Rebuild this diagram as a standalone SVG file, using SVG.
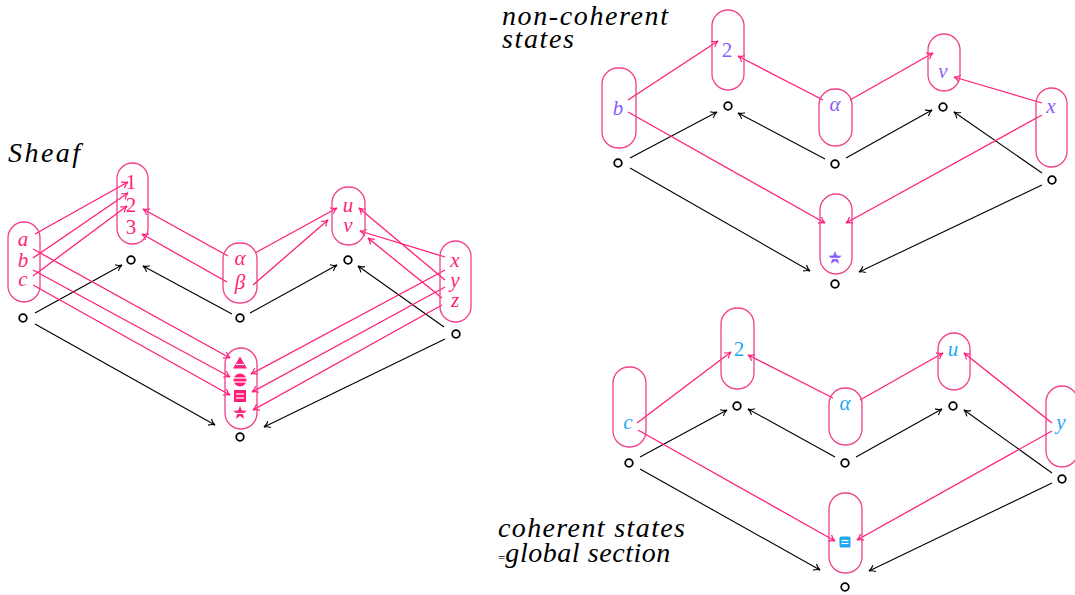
<svg xmlns="http://www.w3.org/2000/svg" xmlns:xlink="http://www.w3.org/1999/xlink" width="1075" height="595" viewBox="0 0 1075 595">
<style>
.box{fill:none;stroke:#F2408A;stroke-width:1.3}
.pk{fill:none;stroke:#FF1F7A;stroke-width:1.3;marker-end:url(#ap)}
.bk{fill:none;stroke:#000;stroke-width:1.1;marker-end:url(#ab)}
.pt{fill:#fff;stroke:#000;stroke-width:1.8}
text{font-family:'Liberation Serif','DejaVu Serif',serif}
.m{font-style:italic;font-size:21px;text-anchor:middle}
.d{font-style:normal}
.pink{fill:#FF1F7A}
.pur{fill:#8B5CFF}
.cy{fill:#1EA6F2}
.ttl{font-style:italic;font-size:28px;fill:#000}
.wl{stroke:#fff;stroke-width:1.2}
</style>
<defs>
<marker id="ap" viewBox="-7 -5 8 10" refX="0" refY="0" markerWidth="8" markerHeight="10" markerUnits="userSpaceOnUse" orient="auto" overflow="visible">
<path d="M-6,-3.5 C-4,-1.5 -1.5,-0.3 0,0 C-1.5,0.3 -4,1.5 -6,3.5" fill="none" stroke="#FF1F7A" stroke-width="1.2"/>
</marker>
<marker id="ab" viewBox="-7 -5 8 10" refX="0" refY="0" markerWidth="8" markerHeight="10" markerUnits="userSpaceOnUse" orient="auto" overflow="visible">
<path d="M-6,-3.5 C-4,-1.5 -1.5,-0.3 0,0 C-1.5,0.3 -4,1.5 -6,3.5" fill="none" stroke="#000" stroke-width="1.1"/>
</marker>
<path id="star" d="M0,-7 L1.76,-2.43 L6.66,-2.16 L2.85,0.93 L4.11,5.66 L0,3 L-4.11,5.66 L-2.85,0.93 L-6.66,-2.16 L-1.76,-2.43 Z"/>
</defs>

<text class="ttl" x="8" y="162" textLength="72">Sheaf</text>
<text class="ttl" x="502" y="25" textLength="166">non-coherent</text>
<text class="ttl" x="502" y="48" textLength="72">states</text>
<text class="ttl" x="498" y="537" textLength="187">coherent states</text>
<text class="ttl" x="498" y="562"><tspan font-size="13" style="font-style:normal">=</tspan><tspan textLength="165">global section</tspan></text>

<g id="connectors">
<line class="bk" x1="35" y1="313" x2="122" y2="265"/>
<line class="bk" x1="232" y1="314" x2="143" y2="266"/>
<line class="bk" x1="250" y1="313" x2="337" y2="265"/>
<line class="bk" x1="444" y1="327" x2="358" y2="266"/>
<line class="bk" x1="35" y1="324" x2="215" y2="425"/>
<line class="bk" x1="445" y1="339" x2="264" y2="427"/>
<line class="pk" x1="35" y1="234" x2="128" y2="182"/>
<line class="pk" x1="33" y1="258" x2="128" y2="193"/>
<line class="pk" x1="33" y1="276" x2="127" y2="206"/>
<line class="pk" x1="228" y1="256" x2="143" y2="209"/>
<line class="pk" x1="227" y1="282" x2="142" y2="234"/>
<line class="pk" x1="255" y1="253" x2="337" y2="208"/>
<line class="pk" x1="253" y1="285" x2="328" y2="220"/>
<line class="pk" x1="445" y1="257" x2="360" y2="231"/>
<line class="pk" x1="445" y1="280" x2="359" y2="208"/>
<line class="pk" x1="442" y1="298" x2="368" y2="238"/>
<line class="pk" x1="33" y1="249" x2="230" y2="358"/>
<line class="pk" x1="33" y1="270" x2="230" y2="377"/>
<line class="pk" x1="33" y1="285" x2="230" y2="395"/>
<line class="pk" x1="445" y1="270" x2="251" y2="374"/>
<line class="pk" x1="445" y1="287" x2="252" y2="392"/>
<line class="pk" x1="442" y1="305" x2="253" y2="410"/>
<line class="bk" x1="630" y1="158" x2="717" y2="112"/>
<line class="bk" x1="825" y1="159" x2="738" y2="113"/>
<line class="bk" x1="846" y1="158" x2="932" y2="110"/>
<line class="bk" x1="1042" y1="173" x2="954" y2="112"/>
<line class="bk" x1="630" y1="168" x2="810" y2="271"/>
<line class="bk" x1="1042" y1="185" x2="859" y2="272"/>
<line class="pk" x1="628" y1="100" x2="718" y2="41"/>
<line class="pk" x1="628" y1="112" x2="825" y2="223"/>
<line class="pk" x1="823" y1="100" x2="738" y2="56"/>
<line class="pk" x1="850" y1="100" x2="933" y2="53"/>
<line class="pk" x1="1042" y1="103" x2="954" y2="77"/>
<line class="pk" x1="1042" y1="115" x2="846" y2="223"/>
<line class="bk" x1="640" y1="457" x2="727" y2="410"/>
<line class="bk" x1="835" y1="457" x2="748" y2="409"/>
<line class="bk" x1="856" y1="457" x2="942" y2="409"/>
<line class="bk" x1="1052" y1="473" x2="964" y2="410"/>
<line class="bk" x1="640" y1="469" x2="820" y2="570"/>
<line class="bk" x1="1052" y1="483" x2="869" y2="571"/>
<line class="pk" x1="637" y1="423" x2="731" y2="352"/>
<line class="pk" x1="638" y1="430" x2="835" y2="541"/>
<line class="pk" x1="833" y1="398" x2="748" y2="355"/>
<line class="pk" x1="860" y1="400" x2="943" y2="353"/>
<line class="pk" x1="1052" y1="423" x2="964" y2="353"/>
<line class="pk" x1="1052" y1="431" x2="857" y2="540"/>
</g>

<g id="L-abc"><rect class="box" x="8" y="222" width="32" height="80" rx="16"/>
<text class="m pink" x="23" y="246">a</text><text class="m pink" x="23" y="267">b</text><text class="m pink" x="23" y="286">c</text></g>
<g id="L-123"><rect class="box" x="117" y="163" width="31" height="81" rx="15.5"/>
<text class="m d pink" x="131" y="189">1</text><text class="m d pink" x="131" y="212">2</text><text class="m d pink" x="131" y="234">3</text></g>
<g id="L-alphabeta"><rect class="box" x="223" y="243" width="34" height="60" rx="16"/>
<text class="m pink" x="240" y="265">α</text><text class="m pink" x="240" y="289">β</text></g>
<g id="L-uv"><rect class="box" x="332" y="187" width="33" height="58" rx="16"/>
<text class="m pink" x="348" y="212">u</text><text class="m pink" x="348" y="232">v</text></g>
<g id="L-xyz"><rect class="box" x="440" y="241" width="31" height="81" rx="15.5"/>
<text class="m pink" x="455" y="267">x</text><text class="m pink" x="455" y="287">y</text><text class="m pink" x="455" y="307">z</text></g>
<g id="L-symbols"><rect class="box" x="225" y="348" width="32" height="81" rx="16"/>
<path d="M240,356.5 L247,368.5 L233,368.5 Z" fill="#FF1F7A"/>
<line class="wl" x1="236" y1="364.5" x2="244" y2="364.5"/>
<circle cx="240" cy="380" r="6.5" fill="#FF1F7A"/>
<line class="wl" x1="233.5" y1="378" x2="246.5" y2="378"/><line class="wl" x1="233.5" y1="382" x2="246.5" y2="382"/>
<rect x="234" y="390" width="12" height="12" fill="#FF1F7A"/>
<line class="wl" x1="236" y1="394" x2="244" y2="394"/><line class="wl" x1="236" y1="398" x2="244" y2="398"/>
<use xlink:href="#star" href="#star" x="240" y="413" fill="#FF1F7A"/>
<line class="wl" x1="236" y1="413.5" x2="244" y2="413.5"/></g>
<g id="L-points">
<circle class="pt" cx="23" cy="318" r="3.8"/><circle class="pt" cx="131" cy="260" r="3.8"/>
<circle class="pt" cx="240" cy="318" r="3.8"/><circle class="pt" cx="348" cy="260" r="3.8"/>
<circle class="pt" cx="456" cy="334" r="3.8"/><circle class="pt" cx="240" cy="437" r="3.8"/></g>

<g id="T-b"><rect class="box" x="602" y="68" width="34" height="80" rx="16"/><text class="m pur" x="618" y="115">b</text></g>
<g id="T-2"><rect class="box" x="712" y="10" width="32" height="80" rx="16"/><text class="m d pur" x="727" y="57">2</text></g>
<g id="T-alpha"><rect class="box" x="819" y="89" width="33" height="57" rx="16"/><text class="m pur" x="835" y="111">α</text></g>
<g id="T-v"><rect class="box" x="928" y="34" width="32" height="57" rx="16"/><text class="m pur" x="943" y="78">v</text></g>
<g id="T-x"><rect class="box" x="1036" y="88" width="31" height="79" rx="15.5"/><text class="m pur" x="1051" y="113">x</text></g>
<g id="T-star"><rect class="box" x="820" y="194" width="32" height="80" rx="16"/>
<use xlink:href="#star" href="#star" x="835" y="258" fill="#8B5CFF"/>
<line class="wl" x1="831" y1="258.5" x2="839" y2="258.5"/></g>
<g id="T-points">
<circle class="pt" cx="618" cy="163" r="3.8"/><circle class="pt" cx="728" cy="106" r="3.8"/>
<circle class="pt" cx="835" cy="164" r="3.8"/><circle class="pt" cx="943" cy="107" r="3.8"/>
<circle class="pt" cx="1052" cy="180" r="3.8"/><circle class="pt" cx="835" cy="284" r="3.8"/></g>

<g id="B-c"><rect class="box" x="613" y="367" width="33" height="80" rx="16"/><text class="m cy" x="628" y="429">c</text></g>
<g id="B-2"><rect class="box" x="721" y="308" width="33" height="81" rx="16"/><text class="m d cy" x="739" y="356">2</text></g>
<g id="B-alpha"><rect class="box" x="829" y="388" width="33" height="57" rx="16"/><text class="m cy" x="845" y="410">α</text></g>
<g id="B-u"><rect class="box" x="938" y="333" width="32" height="57" rx="16"/><text class="m cy" x="953" y="356">u</text></g>
<g id="B-y"><rect class="box" x="1046" y="386" width="32" height="81" rx="16"/><text class="m cy" x="1061" y="429">y</text></g>
<g id="B-square"><rect class="box" x="829" y="493" width="33" height="80" rx="16"/>
<rect x="839.5" y="536.5" width="11" height="11" rx="1.5" fill="#1EA6F2"/>
<line class="wl" x1="841.5" y1="540.5" x2="848.5" y2="540.5"/><line class="wl" x1="841.5" y1="543.5" x2="848.5" y2="543.5"/></g>
<g id="B-points">
<circle class="pt" cx="629" cy="463" r="3.8"/><circle class="pt" cx="737" cy="406" r="3.8"/>
<circle class="pt" cx="845" cy="463" r="3.8"/><circle class="pt" cx="953" cy="406" r="3.8"/>
<circle class="pt" cx="1062" cy="479" r="3.8"/><circle class="pt" cx="845" cy="587" r="3.8"/></g>
</svg>
